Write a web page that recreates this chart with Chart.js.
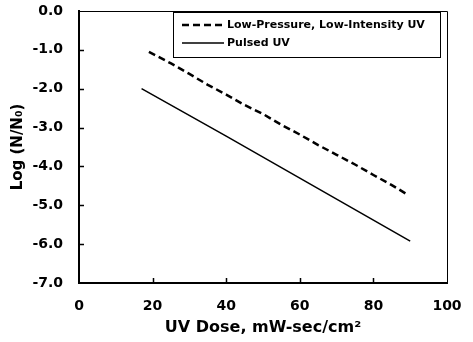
<!DOCTYPE html>
<html>
<head>
<meta charset="utf-8">
<script src="https://cdn.jsdelivr.net/npm/chart.js@4.4.0/dist/chart.umd.min.js"></script>
<style>
  body { margin: 0; background: #fff; }
  #wrap { width: 473px; height: 342px; }
</style>
</head>
<body>
<div id="wrap"><canvas id="myChart"></canvas></div>
<script>
// values
const lowPressureDose = [19, 25, 30, 35, 40, 45, 50, 55, 60, 65, 70, 75, 80, 85, 89];
const lowPressureLog = [-1.05, -1.35, -1.62, -1.90, -2.15, -2.42, -2.65, -2.93, -3.18, -3.45, -3.70, -3.95, -4.22, -4.48, -4.71];
const pulsedDose = [17, 40, 60, 90];
const pulsedLog = [-2.0, -3.22, -4.30, -5.92];
const seriesNames = ['Low-Pressure, Low-Intensity UV', 'Pulsed UV'];

const FONT = '"DejaVu Sans", Verdana, sans-serif';

// ticks drawn inside the plot, top/right frame and the boxed legend
const frameAndTicks = {
    id: 'frameAndTicks',
    afterDraw(chart) {
        const { ctx, chartArea: a, scales } = chart;
        ctx.save();
        ctx.strokeStyle = '#000';
        ctx.lineWidth = 1;
        ctx.beginPath();
        ctx.moveTo(a.left, a.top + 0.5);
        ctx.lineTo(a.right + 0.5, a.top + 0.5);
        ctx.lineTo(a.right + 0.5, a.bottom);
        ctx.stroke();

        ctx.lineWidth = 1.5;
        ctx.beginPath();
        scales.y.ticks.forEach(t => {
            const py = Math.round(scales.y.getPixelForValue(t.value)) + 0.5;
            if (t.value > -7 && t.value < 0) {
                ctx.moveTo(a.left, py);
                ctx.lineTo(a.left + 5, py);
            }
        });
        scales.x.ticks.forEach(t => {
            const px = Math.round(scales.x.getPixelForValue(t.value)) + 0.5;
            if (t.value > 0 && t.value < 100) {
                ctx.moveTo(px, a.bottom);
                ctx.lineTo(px, a.bottom - 5);
            }
        });
        ctx.stroke();

        // legend box
        const bx = a.right - 274, by = a.top + 1, bw = 267, bh = 45;
        ctx.fillStyle = '#fff';
        ctx.fillRect(bx, by, bw, bh);
        ctx.lineWidth = 1;
        ctx.strokeRect(bx + 0.5, by + 0.5, bw, bh);
        ctx.font = 'bold 11px ' + FONT;
        ctx.textAlign = 'left';
        ctx.textBaseline = 'middle';
        chart.data.datasets.forEach((ds, i) => {
            const ly = by + 13 + i * 18;
            ctx.beginPath();
            ctx.setLineDash(ds.borderDash || []);
            ctx.lineWidth = ds.borderWidth;
            ctx.moveTo(bx + 9, ly);
            ctx.lineTo(bx + 51, ly);
            ctx.stroke();
            ctx.setLineDash([]);
            ctx.fillStyle = '#000';
            ctx.fillText(ds.label, bx + 54, ly);
        });
        ctx.restore();
    }
};

const ctx = document.getElementById('myChart').getContext('2d');
new Chart(ctx, {
    type: 'line',
    data: {
        datasets: [{
            label: seriesNames[0],
            data: lowPressureDose.map((x, i) => ({ x: x, y: lowPressureLog[i] })),
            borderColor: '#000',
            borderWidth: 2.5,
            borderDash: [7, 4],
            pointRadius: 0,
            tension: 0
        }, {
            label: seriesNames[1],
            data: pulsedDose.map((x, i) => ({ x: x, y: pulsedLog[i] })),
            borderColor: '#000',
            borderWidth: 1.5,
            pointRadius: 0,
            tension: 0
        }]
    },
    plugins: [frameAndTicks],
    options: {
        responsive: true,
        maintainAspectRatio: false,
        animation: false,
        layout: { padding: { left: 5, right: 26, top: 11, bottom: 1 } },
        plugins: {
            legend: { display: false },
            tooltip: { enabled: false }
        },
        scales: {
            x: {
                type: 'linear',
                min: 0,
                max: 100,
                afterFit: scale => {
                    scale.height = 58;
                    scale.paddingLeft = 0;
                    scale.paddingRight = 0;
                },
                ticks: {
                    stepSize: 20,
                    color: '#000',
                    padding: 15,
                    font: { family: FONT, size: 14, weight: 'bold' }
                },
                grid: { display: false, drawTicks: false },
                border: { color: '#000', width: 2 },
                title: {
                    display: true,
                    text: 'UV Dose, mW-sec/cm²',
                    color: '#000',
                    font: { family: FONT, size: 16, weight: 'bold' }
                }
            },
            y: {
                min: -7,
                max: 0,
                afterFit: scale => {
                    scale.width = 74;
                    scale.paddingTop = 0;
                    scale.paddingBottom = 0;
                },
                ticks: {
                    stepSize: 1,
                    color: '#000',
                    padding: 16,
                    font: { family: FONT, size: 14, weight: 'bold' },
                    callback: v => v.toFixed(1)
                },
                grid: { display: false, drawTicks: false },
                border: { color: '#000', width: 2 },
                title: {
                    display: true,
                    text: 'Log (N/N₀)',
                    color: '#000',
                    font: { family: FONT, size: 15, weight: 'bold' }
                }
            }
        }
    }
});
</script>
</body>
</html>
